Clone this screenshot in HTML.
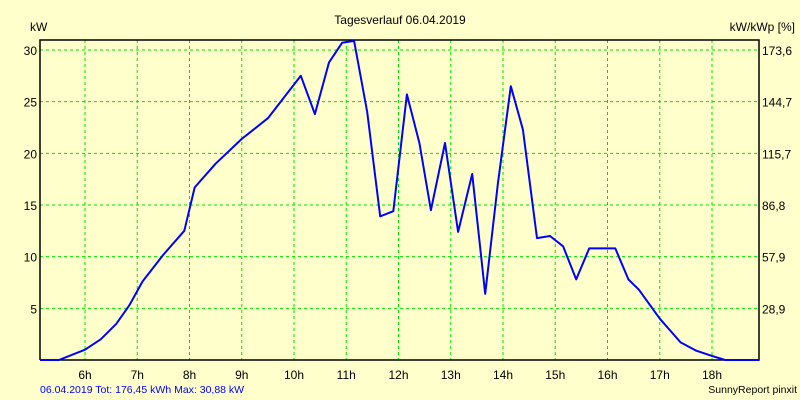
<!DOCTYPE html>
<html><head><meta charset="utf-8">
<style>
body{margin:0;background:#FFFFCC;}
svg{display:block;font-family:"Liberation Sans",Arial,sans-serif;}
</style></head>
<body>
<svg id="chart" width="800" height="400" xmlns="http://www.w3.org/2000/svg">
<rect x="0" y="0" width="800" height="400" fill="#FFFFCC"/>
<text x="400" y="24" font-size="12" text-anchor="middle" fill="#000">Tagesverlauf 06.04.2019</text>
<text x="30" y="31" font-size="12" fill="#000">kW</text>
<text x="795" y="31" font-size="12" text-anchor="end" fill="#000">kW/kWp [%]</text>
<g id="grid"></g>
<g id="axes"></g>
<path id="line" fill="none" stroke="#0000FF" stroke-width="2" stroke-linejoin="round"/>
<text x="40" y="393" font-size="10.5" fill="#0000FF">06.04.2019 Tot: 176,45 kWh Max: 30,88 kW</text>
<text x="797" y="393" font-size="10.5" text-anchor="end" fill="#000">SunnyReport pinxit</text>
</svg>
<script>
const hours=[5.14,5.5,6.0,6.3,6.6,6.85,7.1,7.5,7.9,8.1,8.5,9.0,9.5,10.13,10.4,10.67,10.92,11.15,11.4,11.65,11.9,12.16,12.4,12.62,12.89,13.14,13.41,13.66,13.9,14.15,14.38,14.65,14.9,15.15,15.4,15.65,16.15,16.4,16.6,17.0,17.4,17.7,18.0,18.25,18.9];
const kw=[0,0,1.0,2.0,3.5,5.3,7.6,10.2,12.5,16.7,19.0,21.4,23.4,27.5,23.8,28.8,30.7,30.88,24,13.9,14.4,25.7,21,14.5,21,12.4,18,6.4,17,26.5,22.3,11.8,12,11,7.8,10.8,10.8,7.8,6.8,4.0,1.7,0.9,0.4,0,0];
const xTicks=[6,7,8,9,10,11,12,13,14,15,16,17,18];
const yTicks=[5,10,15,20,25,30];
const rightLabels=["28,9","57,9","86,8","115,7","144,7","173,6"];
const L=40,R=759,T=40,B=360;
const xs=h=>85+(h-6)*52.25;
const ys=v=>B-v*10.333;
const NS="http://www.w3.org/2000/svg";
const grid=document.getElementById('grid'),axes=document.getElementById('axes');
function mk(tag,attrs,parent,txt){const e=document.createElementNS(NS,tag);for(const k in attrs)e.setAttribute(k,attrs[k]);if(txt!==undefined)e.textContent=txt;parent.appendChild(e);return e;}
xTicks.forEach(h=>{
 const x=xs(h);
 const g=mk('line',{x1:x,x2:x,y1:T,y2:B,stroke:'#00E000','stroke-dasharray':'3,3','stroke-width':1},grid);
 
 
 const t=mk('text',{x:x,y:B+19,'font-size':12,'text-anchor':'middle',fill:'#000'},axes,h+'h');
 
 
});
yTicks.forEach((v,i)=>{
 const y=ys(v);
 const g=mk('line',{x1:L,x2:R,y1:y,y2:y,stroke:'#00E000','stroke-dasharray':'3,3','stroke-width':1},grid);
 
 
 const t=mk('text',{x:37,y:y+5,'font-size':12,'text-anchor':'end',fill:'#000'},axes,String(v));
 
 
 const r=mk('text',{x:R+3,y:y+5,'font-size':12,fill:'#000'},axes,rightLabels[i]);
 
 
});
const frame=mk('path',{d:`M${L},${B}V${T}H${R}V${B}H${L}`,fill:'none',stroke:'#000','stroke-width':1.5},axes);


document.getElementById('line').setAttribute('d',hours.map((h,i)=>(i?'L':'M')+xs(h).toFixed(1)+','+ys(kw[i]).toFixed(1)).join(''));
</script>
</body></html>
